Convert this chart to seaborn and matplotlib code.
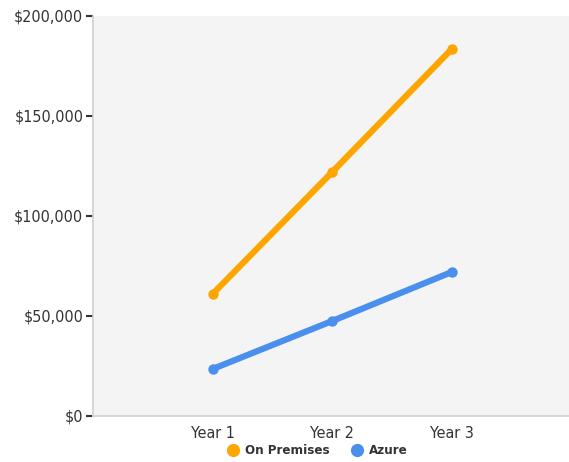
import matplotlib
matplotlib.use("Agg")
import matplotlib.pyplot as plt
from matplotlib.lines import Line2D
from matplotlib.ticker import FuncFormatter
import pandas as pd
import seaborn as sns

# data
years = ["Year 1", "Year 2", "Year 3"]
on_premises = [61000, 122000, 183500]
azure = [23500, 47500, 72000]
series_names = ["On Premises", "Azure"]
colors = {"On Premises": "#FFA500", "Azure": "#4A8FEE"}

BG = "#F4F4F4"
TEXT = "#333333"

df = pd.concat([
    pd.DataFrame({"Year": years, "Cost": on_premises, "Series": "On Premises"}),
    pd.DataFrame({"Year": years, "Cost": azure, "Series": "Azure"}),
])

sns.set_theme(style="white")
plt.rcParams["font.family"] = ["DejaVu Sans"]
plt.rcParams["font.stretch"] = "condensed"

fig = plt.figure(figsize=(5.69, 4.62), dpi=100)
ax = fig.add_axes([93 / 569, 46 / 462, 1 - 93 / 569, 400 / 462])
ax.set_facecolor(BG)

sns.lineplot(data=df, x="Year", y="Cost", hue="Series", palette=colors,
             marker="o", markersize=7.5, markeredgewidth=0, linewidth=4.5,
             ax=ax, legend=False, sort=False)

ax.set_xlim(-1, 2.98)
ax.set_ylim(0, 200000)
ax.set_yticks([0, 50000, 100000, 150000, 200000])
ax.yaxis.set_major_formatter(FuncFormatter(lambda v, p: f"${v:,.0f}"))
ax.set_xlabel("")
ax.set_ylabel("")

for side in ["top", "right"]:
    ax.spines[side].set_visible(False)
for side in ["left", "bottom"]:
    ax.spines[side].set_color("#D0D0D0")
    ax.spines[side].set_linewidth(1.2)

ax.tick_params(axis="y", left=True, length=5, width=1.5, color="#333333",
               labelsize=11.5, labelcolor=TEXT, pad=2)
ax.tick_params(axis="x", bottom=False, labelsize=11.5, labelcolor=TEXT, pad=1)

handles = [Line2D([0], [0], marker="o", linestyle="none", markersize=9.5,
                  markerfacecolor=colors[n], markeredgewidth=0) for n in series_names]
leg = fig.legend(handles, series_names, loc="center", ncol=2,
                 bbox_to_anchor=(317 / 569, 11 / 462), frameon=False,
                 handletextpad=0.4, columnspacing=1.6, handlelength=1.0,
                 prop={"weight": "bold", "size": 9.5, "stretch": "condensed"})
for t in leg.get_texts():
    t.set_color(TEXT)

fig.savefig("out.png", dpi=100, facecolor="white")
